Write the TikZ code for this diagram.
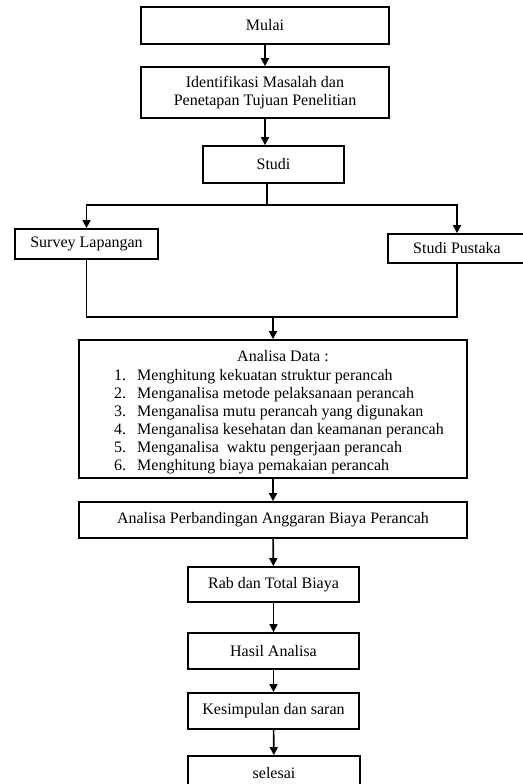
\documentclass[tikz,border=0pt]{standalone}
\usepackage{fontspec}
\setmainfont{Liberation Serif}
\usetikzlibrary{arrows.meta,positioning,calc}

\begin{document}
\begin{tikzpicture}[x=1pt,y=-1pt, >={Triangle[length=8pt,width=8pt]},
  every node/.style={font=\fontsize{16}{18}\selectfont},
  box/.style={draw,line width=1.7pt,inner sep=0pt,align=center},
  line/.style={line width=1.6pt}]
  \useasboundingbox (0,0) rectangle (522,784);
  \node[box,minimum width=248pt,minimum height=37pt] (mulai) at (265,25.5) {Mulai};
  \node[box,minimum width=248pt,minimum height=51pt] (ident) at (265,92.5) {Identifikasi Masalah dan\\Penetapan Tujuan Penelitian};
  \node[box,minimum width=141pt,minimum height=37pt] (studi) at (273.5,164.5) {Studi};
  \node[box,minimum width=143pt,minimum height=30pt] (survey) at (86.5,244) {Survey Lapangan};
  \node[box,minimum width=138pt,minimum height=29pt] (pustaka) at (457,248.5) {Studi Pustaka};
  \node[box,minimum width=388pt,minimum height=138pt] (data) at (273,409) {};
  \node (judul) at (283,356) {Analisa Data :};
  \foreach \item [count=\i] in {Menghitung kekuatan struktur perancah,
      Menganalisa metode pelaksanaan perancah,
      Menganalisa mutu perancah yang digunakan,
      Menganalisa kesehatan dan keamanan perancah,
      Menganalisa\ \ waktu pengerjaan perancah,
      Menghitung biaya pemakaian perancah}{
    \node[anchor=base west,inner sep=0pt] (no\i) at (114,362+18*\i) {\i.};
    \node[anchor=base west,inner sep=0pt] (isi\i) at (137,362+18*\i) {\item};
  }
  \node[box,minimum width=388pt,minimum height=36pt] (banding) at (273,520) {Analisa Perbandingan Anggaran Biaya Perancah};
  \node[box,minimum width=171pt,minimum height=35pt] (rab) at (273.5,584.5) {Rab dan Total Biaya};
  \node[box,minimum width=171pt,minimum height=36pt] (hasil) at (273.5,651) {Hasil Analisa};
  \node[box,minimum width=171pt,minimum height=36pt] (simpul) at (273.5,711) {Kesimpulan dan saran};
  \node[box,minimum width=172pt,minimum height=34pt] (selesai) at (274,773) {selesai};
  % cabang dan gabungan
  \coordinate (split) at (267,205);
  \coordinate (merge) at (273,317);
  \draw[line,->] (mulai) -- (ident);
  \draw[line,->] (ident) -- (studi.north -| ident.south);
  \draw[line] (studi.south -| split) -- (split);
  \draw[line,->] (split) -| (survey.north);
  \draw[line,->] (split) -| (pustaka.north);
  \draw[line] (survey.south) |- (merge);
  \draw[line] (pustaka.south) |- (merge);
  \draw[line,->] (merge) -- (data.north -| merge);
  \draw[line,->] (data) -- (banding);
  \draw[line,->] (banding) -- (rab);
  \draw[line,->] (rab) -- (hasil);
  \draw[line,->] (hasil) -- (simpul);
  \draw[line,->] (simpul) -- (selesai);
\end{tikzpicture}
\end{document}
